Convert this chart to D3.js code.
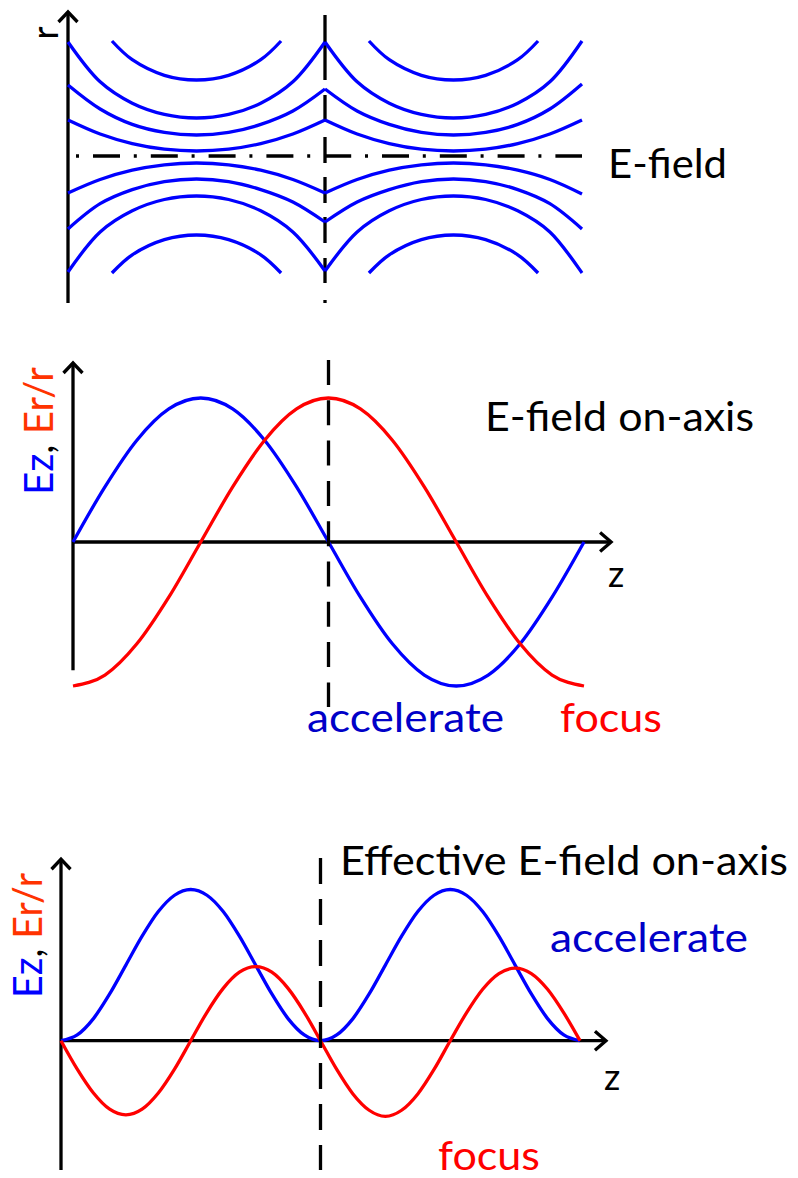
<!DOCTYPE html>
<html>
<head>
<meta charset="utf-8">
<script src="https://cdn.jsdelivr.net/npm/d3@7"></script>
<style>
  body { margin: 0; background: #ffffff; }
  svg { display: block; }
</style>
</head>
<body>
<svg id="chart" width="798" height="1178"></svg>
<script>
// ---------------- Data ----------------
// Panel 1: field lines in two accelerating cells. z in cell units (0..2),
// r sampled every 1/8 cell (a cusp sits at the iris, z = 1).
const zCells = [0, 0.125, 0.25, 0.375, 0.5, 0.625, 0.75, 0.875, 1,
                1.125, 1.25, 1.375, 1.5, 1.625, 1.75, 1.875, 2];
const fieldUpper = [
  [36, 22, 12.4, 6.8, 5, 6.8, 12.4, 22, 36, 22, 12.4, 6.8, 5, 6.8, 12.4, 22, 36],
  [71, 47, 31.6, 23.6, 21, 23.6, 31.6, 45, 67, 45, 31.6, 23.6, 21, 23.6, 31.6, 47, 72],
  [114, 74.2, 52.8, 41.6, 38, 41.6, 52.8, 74.2, 114, 74.2, 52.8, 41.6, 38, 41.6, 52.8, 74.2, 115]
];
const fieldLower = [
  [-37, -23.5, -14.2, -8.8, -7, -8.8, -14.2, -23.5, -37, -23.5, -14.2, -8.8, -7, -8.8, -14.2, -23.5, -38],
  [-73, -47.7, -33.6, -25.6, -23, -25.6, -33.6, -46, -66, -46, -33.6, -25.6, -23, -25.6, -33.6, -47.7, -73],
  [-116, -76, -54.8, -43.5, -40, -43.5, -54.8, -76, -115, -76, -54.8, -43.5, -40, -43.5, -54.8, -76, -117]
];
// Outermost arcs, one per cell (z within a cell)
const zArc = [0.171, 0.25, 0.375, 0.5, 0.625, 0.75, 0.829];
const arcUpper = [115, 96.3, 80.7, 76, 80.7, 96.3, 115];
const arcLower = [-117, -98.8, -83.6, -79, -83.6, -98.8, -117];

// Panel 2: on-axis field over one period (z in periods)
const z2 = [0, 0.0625, 0.125, 0.1875, 0.25, 0.3125, 0.375, 0.4375, 0.5,
            0.5625, 0.625, 0.6875, 0.75, 0.8125, 0.875, 0.9375, 1];
const ez2 = [0, 0.383, 0.707, 0.924, 1, 0.924, 0.707, 0.383, 0,
             -0.383, -0.707, -0.924, -1, -0.924, -0.707, -0.383, 0];
const er2 = [-1, -0.924, -0.707, -0.383, 0, 0.383, 0.707, 0.924, 1,
             0.924, 0.707, 0.383, 0, -0.383, -0.707, -0.924, -1];

// Panel 3: effective on-axis field over two half-periods
const z3 = [0, 0.0625, 0.125, 0.1875, 0.25, 0.3125, 0.375, 0.4375, 0.5,
            0.5625, 0.625, 0.6875, 0.75, 0.8125, 0.875, 0.9375, 1,
            1.0625, 1.125, 1.1875, 1.25, 1.3125, 1.375, 1.4375, 1.5,
            1.5625, 1.625, 1.6875, 1.75, 1.8125, 1.875, 1.9375, 2];
const ez3 = [0, 0.038, 0.146, 0.309, 0.5, 0.691, 0.854, 0.962, 1, 0.962, 0.854, 0.691, 0.5, 0.309, 0.146, 0.038, 0,
             0.038, 0.146, 0.309, 0.5, 0.691, 0.854, 0.962, 1, 0.962, 0.854, 0.691, 0.5, 0.309, 0.146, 0.038, 0];
const er3 = [0, -0.188, -0.346, -0.453, -0.49, -0.453, -0.346, -0.188, 0, 0.188, 0.346, 0.453, 0.49, 0.453, 0.346, 0.188, 0,
             -0.19, -0.352, -0.46, -0.5, -0.46, -0.352, -0.19, 0, 0.184, 0.34, 0.444, 0.48, 0.444, 0.34, 0.184, 0];

// ---------------- Styles ----------------
const BLUE = "#0000ff";
const RED = "#ff0000";
const TEXT_BLUE = "#0000c8";
const TEXT_ORANGE = "#ff3300";
const FONT = "Lato, 'Open Sans', 'DejaVu Sans', sans-serif";
const SW = 3.3;

const svg = d3.select("#chart");

function arrowUp(g, x, y) {
  g.append("path")
    .attr("d", `M${x - 9.5},${y + 10}L${x},${y}L${x + 9.5},${y + 10}`)
    .attr("fill", "none").attr("stroke", "#000").attr("stroke-width", SW)
    .attr("stroke-linejoin", "miter");
}
function arrowRight(g, x, y) {
  g.append("path")
    .attr("d", `M${x - 11},${y - 9.5}L${x},${y}L${x - 11},${y + 9.5}`)
    .attr("fill", "none").attr("stroke", "#000").attr("stroke-width", SW)
    .attr("stroke-linejoin", "miter");
}
function label(g, txt, x, y, opts = {}) {
  const t = g.append("text")
    .attr("x", x).attr("y", y)
    .attr("font-family", FONT)
    .attr("font-size", opts.size || 41)
    .attr("fill", opts.color || "#000")
    .text(txt);
  if (opts.length) t.attr("textLength", opts.length).attr("lengthAdjust", "spacingAndGlyphs");
  return t;
}
function axisLabel(g, x, y, length) {
  const t = g.append("text")
    .attr("transform", `translate(${x},${y}) rotate(-90)`)
    .attr("font-family", FONT)
    .attr("font-size", 40)
    .attr("textLength", length).attr("lengthAdjust", "spacingAndGlyphs");
  t.append("tspan").attr("fill", BLUE).text("Ez");
  t.append("tspan").attr("fill", "#000").text(", ");
  t.append("tspan").attr("fill", TEXT_ORANGE).text("Er/r");
}

// ---------------- Panel 1: field lines ----------------
{
  const g = svg.append("g");
  const x = d3.scaleLinear().domain([0, 2]).range([68, 582]);
  const y = d3.scaleLinear().domain([-150, 150]).range([306, 6]);
  const line = d3.line().x(d => x(d[0])).y(d => y(d[1])).curve(d3.curveCatmullRom.alpha(0.5));

  // r axis
  g.append("line").attr("x1", x(0)).attr("x2", x(0)).attr("y1", y(-147)).attr("y2", y(143))
    .attr("stroke", "#000").attr("stroke-width", SW);
  arrowUp(g, x(0), y(144));
  g.append("text").attr("transform", `translate(58,33) rotate(-90)`)
    .attr("text-anchor", "middle").attr("font-family", FONT).attr("font-size", 36).text("r");

  // beam axis (dash-dot) and iris plane
  g.append("line").attr("x1", x(0) + 8).attr("x2", x(2)).attr("y1", y(0)).attr("y2", y(0))
    .attr("stroke", "#000").attr("stroke-width", SW)
    .attr("stroke-dasharray", "3 14 27 13.8");
  g.append("line").attr("x1", x(1)).attr("x2", x(1)).attr("y1", y(141)).attr("y2", y(-147))
    .attr("stroke", "#000").attr("stroke-width", SW)
    .attr("stroke-dasharray", "65 15 26 16 26 14 26 14 26 15 25 17 3 20");

  const drawFull = vals => {
    [[0, 9], [8, 17]].forEach(([a, b]) => {
      const pts = d3.range(a, b).map(i => [zCells[i], vals[i]]);
      g.append("path").attr("d", line(pts)).attr("fill", "none")
        .attr("stroke", BLUE).attr("stroke-width", SW);
    });
  };
  fieldUpper.forEach(drawFull);
  fieldLower.forEach(drawFull);
  [arcUpper, arcLower].forEach(vals => {
    [0, 1].forEach(cell => {
      const pts = zArc.map((z, i) => [z + cell, vals[i]]);
      g.append("path").attr("d", line(pts)).attr("fill", "none")
        .attr("stroke", BLUE).attr("stroke-width", SW).attr("stroke-linecap", "butt");
    });
  });

  label(g, "E-field", 608, 178, { length: 119 });
}

// ---------------- Panel 2: on-axis field ----------------
{
  const g = svg.append("g");
  const x = d3.scaleLinear().domain([0, 1]).range([73, 584]);
  const y = d3.scaleLinear().domain([-1, 1]).range([686, 398]);
  const line = d3.line().x(d => x(d[0])).y(d => y(d[1])).curve(d3.curveMonotoneX);

  g.append("line").attr("x1", x(0)).attr("x2", x(0)).attr("y1", y(-0.89)).attr("y2", y(1.235))
    .attr("stroke", "#000").attr("stroke-width", SW);
  arrowUp(g, x(0), y(1.243));
  g.append("line").attr("x1", x(0)).attr("x2", x(1.05)).attr("y1", y(0)).attr("y2", y(0))
    .attr("stroke", "#000").attr("stroke-width", SW);
  arrowRight(g, x(1.053), y(0));

  g.append("path").attr("d", line(z2.map((z, i) => [z, ez2[i]])))
    .attr("fill", "none").attr("stroke", BLUE).attr("stroke-width", SW);
  g.append("path").attr("d", line(z2.map((z, i) => [z, er2[i]])))
    .attr("fill", "none").attr("stroke", RED).attr("stroke-width", SW);

  g.append("line").attr("x1", x(0.5)).attr("x2", x(0.5)).attr("y1", 360).attr("y2", 707)
    .attr("stroke", "#000").attr("stroke-width", SW).attr("stroke-dasharray", "25 15.3");

  label(g, "z", 608, 587, { size: 36 });
  label(g, "E-field on-axis", 485, 431, { length: 269 });
  label(g, "accelerate", 307, 732, { color: TEXT_BLUE, length: 197 });
  label(g, "focus", 560, 732, { color: RED, length: 102 });
  axisLabel(g, 53, 495, 128);
}

// ---------------- Panel 3: effective on-axis field ----------------
{
  const g = svg.append("g");
  const x = d3.scaleLinear().domain([0, 2]).range([61, 580]);
  const y = d3.scaleLinear().domain([0, 1]).range([1040.7, 889.5]);
  const line = d3.line().x(d => x(d[0])).y(d => y(d[1])).curve(d3.curveMonotoneX);

  g.append("line").attr("x1", x(0)).attr("x2", x(0)).attr("y1", y(-0.855)).attr("y2", y(1.195))
    .attr("stroke", "#000").attr("stroke-width", SW);
  arrowUp(g, x(0), y(1.2));
  g.append("line").attr("x1", x(0)).attr("x2", x(2.095)).attr("y1", y(0)).attr("y2", y(0))
    .attr("stroke", "#000").attr("stroke-width", SW);
  arrowRight(g, x(2.1), y(0));

  g.append("path").attr("d", line(z3.map((z, i) => [z, ez3[i]])))
    .attr("fill", "none").attr("stroke", BLUE).attr("stroke-width", SW);
  g.append("path").attr("d", line(z3.map((z, i) => [z, er3[i]])))
    .attr("fill", "none").attr("stroke", RED).attr("stroke-width", SW);

  g.append("line").attr("x1", x(1)).attr("x2", x(1)).attr("y1", 858).attr("y2", 1170)
    .attr("stroke", "#000").attr("stroke-width", SW).attr("stroke-dasharray", "26 15");

  label(g, "z", 604, 1090, { size: 36 });
  label(g, "Effective E-field on-axis", 340, 875, { length: 448 });
  label(g, "accelerate", 550, 952, { color: TEXT_BLUE, length: 198 });
  label(g, "focus", 438, 1170, { color: RED, length: 102 });
  axisLabel(g, 42, 998, 125);
}
</script>
</body>
</html>
